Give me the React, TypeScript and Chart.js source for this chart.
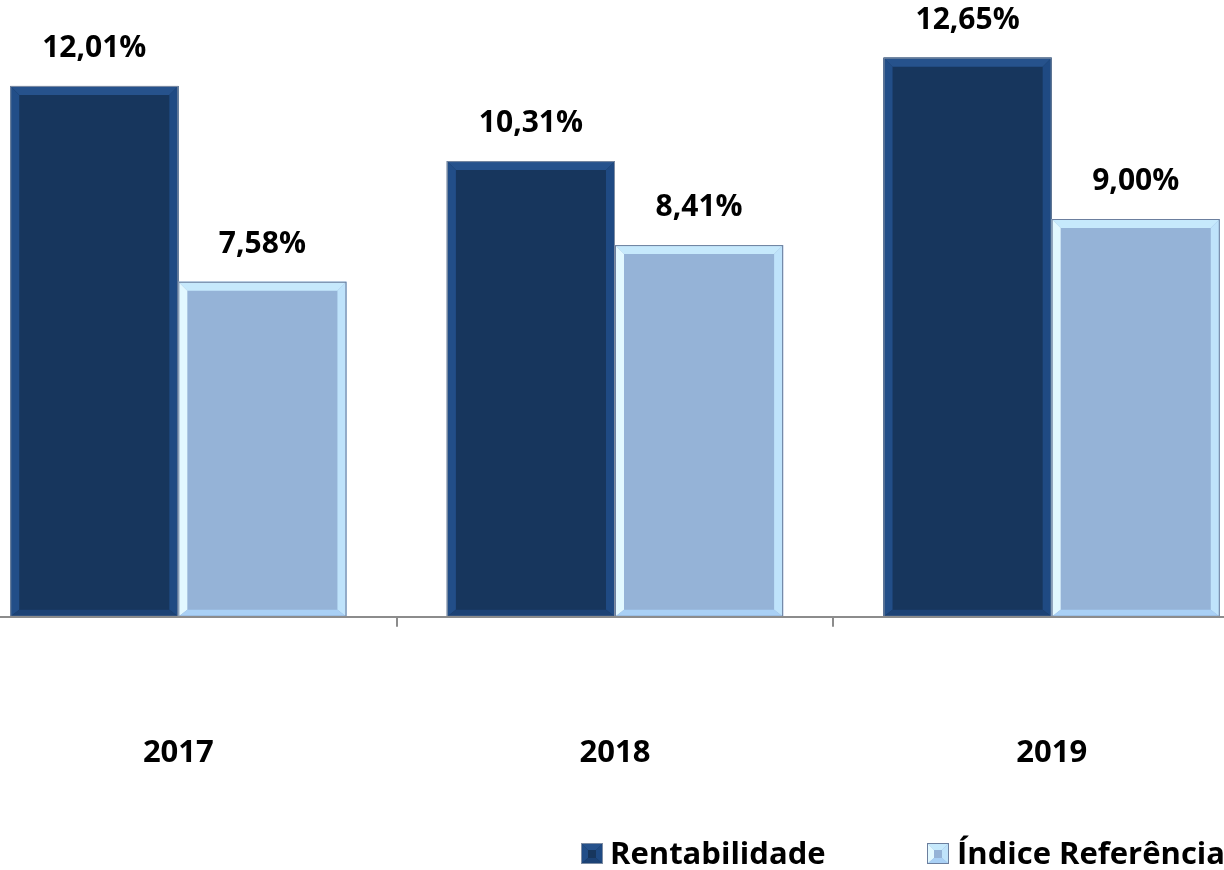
import React, { useEffect, useRef } from "react";
import { Chart, registerables } from "chart.js";

Chart.register(...registerables);

const categories = ["2017", "2018", "2019"];
const rentabilidade = [12.01, 10.31, 12.65];
const indiceReferencia = [7.58, 8.41, 9.0];
const seriesNames = ["Rentabilidade", "Índice Referência"];

const FONT = "'Open Sans', Lato, sans-serif";

type Bev = { fill: string; top: string; left: string; right: string; bottom: string; outline: string };

const darkBev: Bev = {
  fill: "#17365d",
  top: "#26528c",
  left: "#224e88",
  right: "#1f4a83",
  bottom: "#1c4275",
  outline: "#7d8ca3",
};
const lightBev: Bev = {
  fill: "#95b3d7",
  top: "#c6e9fc",
  left: "#e2f8ff",
  right: "#bfe3fb",
  bottom: "#a9d0f5",
  outline: "#6c7f9e",
};

function poly(ctx: CanvasRenderingContext2D, pts: number[][], color: string) {
  ctx.beginPath();
  ctx.moveTo(pts[0][0], pts[0][1]);
  for (let i = 1; i < pts.length; i++) ctx.lineTo(pts[i][0], pts[i][1]);
  ctx.closePath();
  ctx.fillStyle = color;
  ctx.fill();
}

function drawBevel(ctx: CanvasRenderingContext2D, l: number, t: number, r: number, b: number, bw: number, bb: number, c: Bev) {
  ctx.save();
  ctx.fillStyle = c.fill;
  ctx.fillRect(l, t, r - l, b - t);
  poly(ctx, [[l, t], [r, t], [r - bw, t + bw], [l + bw, t + bw]], c.top);
  poly(ctx, [[l, t], [l + bw, t + bw], [l + bw, b - bb], [l, b]], c.left);
  poly(ctx, [[r, t], [r, b], [r - bw, b - bb], [r - bw, t + bw]], c.right);
  poly(ctx, [[l, b], [l + bw, b - bb], [r - bw, b - bb], [r, b]], c.bottom);
  ctx.strokeStyle = c.outline;
  ctx.lineWidth = 1;
  ctx.strokeRect(l + 0.5, t + 0.5, r - l - 1, b - t - 1);
  ctx.restore();
}

const bevelPlugin = {
  id: "bevelBars",
  afterDatasetsDraw(chart: any) {
    const ctx = chart.ctx as CanvasRenderingContext2D;
    chart.data.datasets.forEach((ds: any, di: number) => {
      const meta = chart.getDatasetMeta(di);
      const c = di === 0 ? darkBev : lightBev;
      meta.data.forEach((el: any, i: number) => {
        const p = el.getProps(["x", "y", "base", "width"], true);
        const l = p.x - p.width / 2;
        const r = p.x + p.width / 2;
        drawBevel(ctx, l, p.y, r, p.base, 9, 7, c);
        const v = ds.data[i] as number;
        ctx.save();
        ctx.fillStyle = "#000";
        ctx.font = `bold 30px ${FONT}`;
        ctx.textAlign = "center";
        ctx.textBaseline = "alphabetic";
        ctx.fillText(v.toFixed(2).replace(".", ",") + "%", p.x, p.y - 29);
        ctx.restore();
      });
    });
  },
};

const legendPlugin = {
  id: "customLegend",
  afterDraw(chart: any) {
    const ctx = chart.ctx as CanvasRenderingContext2D;
    const ox = 40;
    const oy = 2;
    const items = [
      { x: 581, tx: 610, c: darkBev, label: seriesNames[0] },
      { x: 927, tx: 957, c: lightBev, label: seriesNames[1] },
    ];
    items.forEach((it) => {
      drawBevel(ctx, it.x + ox, 843 + oy, it.x + 22 + ox, 864 + oy, 7, 6, it.c);
      ctx.save();
      ctx.fillStyle = "#000";
      ctx.font = `bold 31px ${FONT}`;
      ctx.textAlign = "left";
      ctx.textBaseline = "alphabetic";
      ctx.fillText(it.label, it.tx + ox, 864 + oy);
      ctx.restore();
    });
  },
};

export default function App() {
  const ref = useRef<HTMLCanvasElement | null>(null);
  useEffect(() => {
    if (!ref.current) return;
    const chart = new Chart(ref.current, {
      type: "bar",
      data: {
        labels: categories,
        datasets: [
          {
            label: seriesNames[0],
            data: rentabilidade,
            backgroundColor: darkBev.fill,
            borderWidth: 0,
            categoryPercentage: 0.77,
            barPercentage: 1,
          },
          {
            label: seriesNames[1],
            data: indiceReferencia,
            backgroundColor: lightBev.fill,
            borderWidth: 0,
            categoryPercentage: 0.77,
            barPercentage: 1,
          },
        ],
      },
      options: {
        responsive: false,
        animation: false,
        devicePixelRatio: 1,
        layout: { padding: { left: 0, right: 0, top: 0, bottom: 0 } },
        plugins: {
          legend: { display: false },
          tooltip: { enabled: false },
        },
        scales: {
          x: {
            grid: {
              display: true,
              drawOnChartArea: false,
              drawTicks: true,
              tickLength: 10,
              color: "#8c8c8c",
              lineWidth: 2,
              z: 1,
            },
            border: { display: true, color: "#8c8c8c", width: 2, z: 1 },
            ticks: {
              color: "#000",
              padding: 108,
              font: { family: FONT, size: 31, weight: "bold" },
            },
          },
          y: {
            display: false,
            min: 0,
            max: 14,
          },
        },
      },
      plugins: [bevelPlugin, legendPlugin],
    });
    return () => chart.destroy();
  }, []);
  return (
    <div
      style={{
        position: "fixed",
        left: 0,
        top: 0,
        width: 1224,
        height: 870,
        overflow: "hidden",
        background: "#fff",
      }}
    >
      <canvas
        ref={ref}
        width={1310}
        height={882}
        style={{ position: "absolute", left: -40, top: -2 }}
      />
    </div>
  );
}
